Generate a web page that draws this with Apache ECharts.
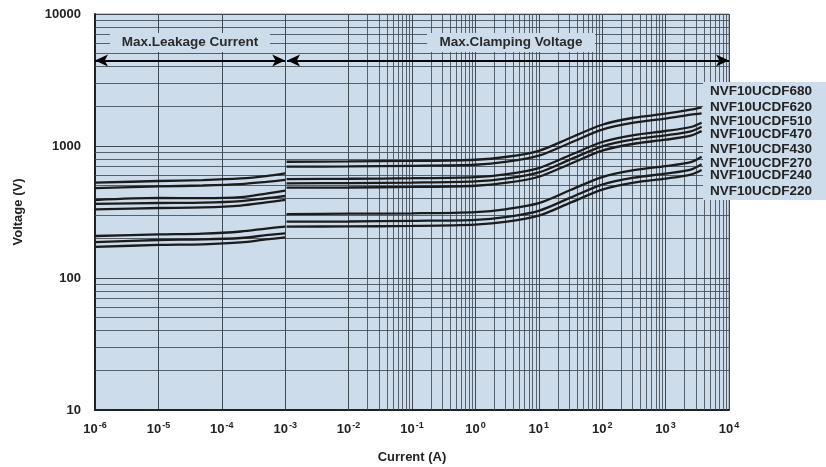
<!DOCTYPE html>
<html>
<head>
<meta charset="utf-8">
<script src="https://cdn.jsdelivr.net/npm/echarts@6/dist/echarts.min.js"></script>
<style>html,body{margin:0;padding:0;background:#fff}#c{width:826px;height:467px}</style>
</head>
<body>
<div id="c"></div>
<script>
// ---- data ----
const products = ['NVF10UCDF680','NVF10UCDF620','NVF10UCDF510','NVF10UCDF470','NVF10UCDF430','NVF10UCDF270','NVF10UCDF240','NVF10UCDF220'];
// Max. leakage current region (A)
const leakX = [1e-6, 1e-5, 5e-5, 2e-4, 5e-4, 1e-3];
const leak680 = [527, 543, 552, 568, 592, 621];
const leak620 = [479, 494, 502, 515, 535, 553];
const leak510 = [390, 404, 403, 410, 436, 459];
const leak470 = [364, 370, 372, 382, 402, 418];
const leak430 = [331, 339, 343, 354, 374, 390];
const leak270 = [208, 214, 217, 225, 237, 245];
const leak240 = [187, 194, 196, 201, 211, 218];
const leak220 = [172, 178, 180, 186, 196, 203];
// Max. clamping voltage region (A)
const clampX = [1.05e-3, 0.01, 0.1, 1, 3.16, 10, 31.6, 100, 316, 1000, 2500, 3700];
const clamp680 = [760, 764, 771, 787, 829, 920, 1155, 1449, 1637, 1756, 1884, 1960];
const clamp620 = [697, 700, 707, 721, 760, 844, 1059, 1329, 1501, 1611, 1728, 1770];
const clamp510 = [562, 565, 570, 582, 613, 681, 854, 1072, 1211, 1299, 1393, 1502];
const clamp470 = [521, 524, 528, 539, 568, 631, 792, 994, 1122, 1204, 1292, 1400];
const clamp430 = [483, 485, 490, 500, 527, 585, 734, 921, 1040, 1116, 1197, 1300];
const clamp270 = [305, 307, 309, 316, 333, 369, 464, 582, 657, 705, 756, 830];
const clamp240 = [267, 268, 271, 276, 291, 323, 406, 509, 575, 617, 662, 726];
const clamp220 = [245, 246, 248, 254, 267, 297, 372, 467, 528, 566, 607, 658];
// tick / annotation text
const regionLabels = ['Max.Leakage Current', 'Max.Clamping Voltage'];
const xName = 'Current (A)';
const yName = 'Voltage (V)';

const leakSets = [leak680, leak620, leak510, leak470, leak430, leak270, leak240, leak220];
const clampSets = [clamp680, clamp620, clamp510, clamp470, clamp430, clamp270, clamp240, clamp220];

const chart = echarts.init(document.getElementById('c'), null, {renderer: 'canvas'});
const gridColor = '#3f4a54';
const FONT = '"Liberation Sans", Arial, sans-serif';

// minor grid positions (2..9 per decade) as markLines on the axes
const xMinor = [], yMinor = [];
for (let e = -6; e < 4; e++) for (let m = 2; m <= 9; m++) xMinor.push({xAxis: m * Math.pow(10, e)});
for (let e = 1; e < 4; e++) for (let m = 2; m <= 9; m++) yMinor.push({yAxis: m * Math.pow(10, e)});

const lineStyle = {color: '#1c1c1c', width: 2.3};
const series = [];
series.push({
  type: 'line', data: [], silent: true, z: 1,
  markLine: {
    silent: true, symbol: 'none', animation: false,
    label: {show: false},
    lineStyle: {color: gridColor, width: 1, type: 'solid', opacity: 0.85},
    data: xMinor.concat(yMinor)
  }
});
products.forEach((p, i) => {
  series.push({
    name: p + ' leak', type: 'line', smooth: 0.3, showSymbol: false, z: 5,
    lineStyle: lineStyle, animation: false,
    data: leakX.map((x, k) => [x, leakSets[i][k]])
  });
  series.push({
    name: p, type: 'line', smooth: 0.3, showSymbol: false, z: 5,
    lineStyle: lineStyle, animation: false,
    data: clampX.map((x, k) => [x, clampSets[i][k]])
  });
});
// range arrows
series.push({
  type: 'line', data: [], silent: true, z: 6,
  markLine: {
    silent: true, animation: false,
    symbol: ['arrow', 'arrow'], symbolSize: [9, 13],
    label: {show: false},
    lineStyle: {color: '#000', width: 2.2, type: 'solid'},
    data: [
      [{coord: [1e-6, 4450]}, {coord: [1e-3, 4450]}],
      [{coord: [1.07e-3, 4450]}, {coord: [1e4, 4450]}]
    ]
  }
});

const labelYs = [91, 107.5, 121.5, 134.5, 149.5, 163, 175.5, 191];
const graphics = [
  {type: 'rect', z: 100, shape: {x: 703, y: 82, width: 123, height: 118}, style: {fill: '#cddcea'}},
  {type: 'rect', z: 100, shape: {x: 110, y: 33, width: 160, height: 19}, style: {fill: '#cddcea'}},
  {type: 'rect', z: 100, shape: {x: 427, y: 33, width: 168, height: 19}, style: {fill: '#cddcea'}},
  {type: 'text', z: 101, x: 190, y: 42.5, style: {text: regionLabels[0], font: 'bold 13.5px ' + FONT, fill: '#2a2a2a', align: 'center', verticalAlign: 'middle'}},
  {type: 'text', z: 101, x: 511, y: 42.5, style: {text: regionLabels[1], font: 'bold 13.5px ' + FONT, fill: '#2a2a2a', align: 'center', verticalAlign: 'middle'}}
];
products.forEach((p, i) => {
  graphics.push({type: 'text', z: 101, x: 710, y: labelYs[i], style: {text: p, font: 'bold 13.5px ' + FONT, fill: '#222', align: 'left', verticalAlign: 'middle'}});
});

chart.setOption({
  animation: false,
  backgroundColor: '#ffffff',
  grid: {left: 95, right: 97, top: 14, bottom: 57, containLabel: false, outerBoundsMode: 'none',
         show: true, backgroundColor: '#cddcea', borderColor: '#8a8f94', borderWidth: 1},
  xAxis: {
    type: 'log', logBase: 10, min: 1e-6, max: 1e4, interval: 1,
    name: xName, nameLocation: 'middle', nameGap: 41,
    nameTextStyle: {fontFamily: FONT, fontWeight: 'bold', fontSize: 13, color: '#222'},
    axisLine: {show: true, onZero: false, lineStyle: {color: '#222', width: 2}},
    axisTick: {show: false},
    splitLine: {show: true, lineStyle: {color: gridColor, width: 1}},
    axisLabel: {
      margin: 11,
      formatter: v => '{b|10}{s|' + Math.round(Math.log10(v)) + '}',
      rich: {
        b: {fontFamily: FONT, fontWeight: 'bold', fontSize: 13, color: '#222', lineHeight: 16},
        s: {fontFamily: FONT, fontWeight: 'bold', fontSize: 9, color: '#222', lineHeight: 10, verticalAlign: 'top', padding: [0, 0, 0, 1]}
      }
    }
  },
  yAxis: {
    type: 'log', logBase: 10, min: 10, max: 10000, interval: 1,
    name: yName, nameLocation: 'middle', nameGap: 70, nameRotate: 90,
    nameTextStyle: {fontFamily: FONT, fontWeight: 'bold', fontSize: 13, color: '#222'},
    axisLine: {show: true, onZero: false, lineStyle: {color: '#222', width: 2}},
    axisTick: {show: false},
    splitLine: {show: true, lineStyle: {color: gridColor, width: 1}},
    axisLabel: {margin: 14, fontFamily: FONT, fontWeight: 'bold', fontSize: 13, color: '#222',
                formatter: v => String(Math.round(v))}
  },
  series: series,
  graphic: graphics
});
</script>
</body>
</html>
